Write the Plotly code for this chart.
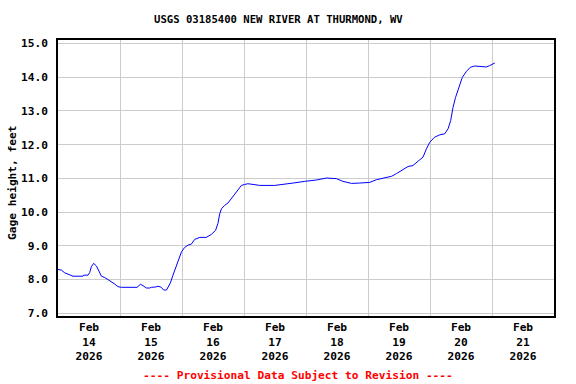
import pandas as pd
import plotly.graph_objects as go

# Hours after 2026-02-14 00:00 and gage height (feet)
hours = [0, 1.3, 2.6, 3.9, 5.8, 9.7, 9.9, 11.6, 12.3, 12.9, 13.8, 14.9, 15.9, 16.8,
         18.1, 19.4, 20.7, 21.9, 23.2, 24.5, 30.6, 31.9, 32.9, 34.2, 35.5, 36.2,
         37.8, 38.7, 39.8, 40.9, 42.0, 42.6, 43.5, 44.5, 45.6, 46.5, 47.8, 49.0,
         50.3, 51.6, 52.9, 54.9, 57.4, 59.4, 61.0, 61.9, 62.6, 63.3, 64.5, 65.8,
         67.1, 68.4, 69.7, 71.0, 72.3, 73.5, 75.5, 78.1, 83.9, 87.1, 91.0, 95.5,
         100.0, 103.9, 107.8, 110.3, 113.6, 116.8, 120.7, 123.3, 125.8, 129.1,
         131.0, 132.9, 135.5, 137.4, 139.4, 141.3, 142.6, 143.9, 145.8, 147.8,
         149.7, 151.0, 152.0, 152.9, 153.9, 155.2, 156.5, 158.1, 159.6, 161.3,
         163.2, 165.8, 167.1, 169.1]
gage_ft = [8.30, 8.28, 8.20, 8.15, 8.10, 8.10, 8.13, 8.13, 8.21, 8.38, 8.48, 8.40, 8.26, 8.10,
           8.06, 8.00, 7.93, 7.87, 7.79, 7.77, 7.77, 7.86, 7.82, 7.75, 7.75, 7.77,
           7.78, 7.80, 7.78, 7.69, 7.69, 7.76, 7.90, 8.13, 8.38, 8.57, 8.82, 8.95,
           9.02, 9.05, 9.19, 9.25, 9.25, 9.34, 9.46, 9.66, 9.95, 10.10, 10.20, 10.27,
           10.40, 10.55, 10.67, 10.79, 10.82, 10.84, 10.82, 10.79, 10.79, 10.83, 10.86, 10.91,
           10.95, 11.01, 10.99, 10.91, 10.85, 10.86, 10.88, 10.96, 11.01, 11.06,
           11.14, 11.23, 11.35, 11.38, 11.51, 11.63, 11.87, 12.07, 12.22, 12.29,
           12.32, 12.47, 12.71, 13.10, 13.40, 13.69, 13.99, 14.17, 14.29, 14.33,
           14.31, 14.30, 14.34, 14.42]
day_labels = ["14", "15", "16", "17", "18", "19", "20", "21"]

start = pd.Timestamp("2026-02-14 00:00")
times = [start + pd.Timedelta(hours=h) for h in hours]

tick_vals = [start + pd.Timedelta(days=i, hours=12) for i in range(len(day_labels))]
tick_text = [f"<b>Feb<br>{d}<br>2026</b>" for d in day_labels]
grid_vals = [start + pd.Timedelta(days=i) for i in range(1, len(day_labels))]

FONT = "DejaVu Sans Mono"
W, H = 576, 384
ML, MR, MT, MB = 58, 22, 40, 68
pw, ph = W - ML - MR, H - MT - MB


def px_to_paper(x, y):
    return (x - ML) / pw, (H - y - MB) / ph


fig = go.Figure()
fig.add_trace(go.Scatter(x=times, y=gage_ft, mode="lines",
                         line=dict(color="#0000ff", width=1), showlegend=False))

annots = []
for text, (px, py), size, color, angle in [
    ("<b>USGS 03185400 NEW RIVER AT THURMOND, WV</b>", (278, 19), 10.6, "black", 0),
    ("<b>---- Provisional Data Subject to Revision ----</b>", (298, 375), 11.2, "#ff0000", 0),
    ("<b>Gage height, feet</b>", (12, 183), 11.2, "black", -90),
]:
    ax_, ay_ = px_to_paper(px, py)
    annots.append(dict(text=text, x=ax_, y=ay_, xref="paper", yref="paper",
                       xanchor="center", yanchor="middle", showarrow=False,
                       textangle=angle, font=dict(family=FONT, size=size, color=color)))

fig.update_layout(
    width=W, height=H,
    margin=dict(l=ML, r=MR, t=MT, b=MB),
    paper_bgcolor="white", plot_bgcolor="white",
    font=dict(family=FONT, size=11, color="black"),
    annotations=annots,
)

fig.update_xaxes(
    range=[start, start + pd.Timedelta(days=8)],
    tickmode="array", tickvals=tick_vals, ticktext=tick_text,
    showgrid=False, ticks="",
    tickfont=dict(family=FONT, size=11.2, color="black"),
    minor=dict(tickmode="array", tickvals=grid_vals, showgrid=True,
               gridcolor="#cccccc", gridwidth=1, ticks=""),
    showline=True, linecolor="black", linewidth=1.5, mirror=True,
    zeroline=False,
)
fig.update_yaxes(
    range=[6.92, 15.1], tickmode="linear", tick0=7, dtick=1, tickformat=".1f",
    tickprefix="<b>", ticksuffix="</b>",
    showgrid=True, gridcolor="#cccccc", gridwidth=1,
    tickfont=dict(family=FONT, size=11.2, color="black"),
    ticks="outside", ticklen=6, tickcolor="white",
    showline=True, linecolor="black", linewidth=1.5, mirror=True,
    zeroline=False,
)

fig.write_html("out.html", config={"displayModeBar": False},
               post_script="document.body.style.margin='0';")
